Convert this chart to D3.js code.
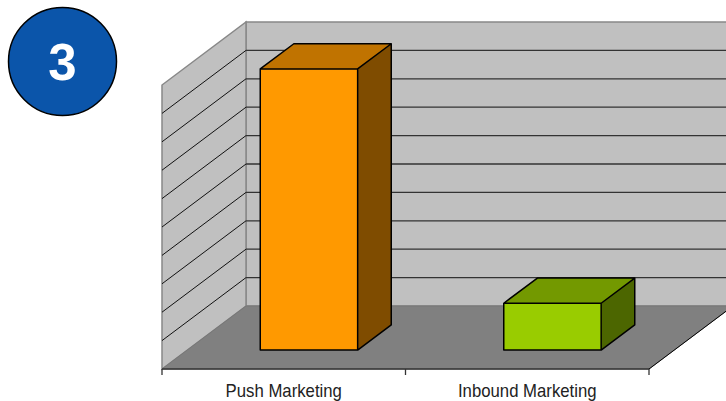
<!DOCTYPE html>
<html>
<head>
<meta charset="utf-8">
<script src="https://cdn.jsdelivr.net/npm/d3@7"></script>
<style>
	body { margin: 0; background: #fff; }
	svg { display: block; }
</style>
</head>
<body>
<svg></svg>
<script>
var categories = ['Push Marketing', 'Inbound Marketing'];
var values = [99, 16.5];
var gridTicks = [0, 10, 20, 30, 40, 50, 60, 70, 80, 90, 100];
var frontColors = ['#ff9900', '#99cc00'];
var topColors = ['#c07300', '#739900'];
var sideColors = ['#7f4c00', '#4c6600'];

var width = 726;
var height = 401;

// depth offset of the 3D box
var depth = { dx: 84, dy: -63 };

var svg = d3.select('svg')
	.attr('width', width)
	.attr('height', height);

var x = d3.scaleBand()
	.domain(categories)
	.range([162, 649])
	.padding(0);

var y = d3.scaleLinear()
	.domain([0, 100])
	.range([369, 85]);

// project a point: category position, value, depth 0..1
function pt(px, v, d) {
	return [px + d * depth.dx, y(v) + d * depth.dy];
}

function poly(points) {
	return points.map(function(p) { return p.join(','); }).join(' ');
}

var x0 = x.range()[0];
var x1 = x.range()[1];
var vMax = y.domain()[1];

// back wall
svg.append('polygon')
	.attr('points', poly([pt(x0, 0, 1), pt(x0, vMax, 1), pt(x1, vMax, 1), pt(x1, 0, 1)]))
	.attr('fill', '#c0c0c0')
	.attr('stroke', '#888')
	.attr('stroke-width', 1.5);

// side wall
svg.append('polygon')
	.attr('points', poly([pt(x0, 0, 0), pt(x0, vMax, 0), pt(x0, vMax, 1), pt(x0, 0, 1)]))
	.attr('fill', '#c0c0c0')
	.attr('stroke', '#888')
	.attr('stroke-width', 1.5);

// grid lines
var inner = gridTicks.slice(1, -1);
svg.append('g').selectAll('line.back')
	.data(inner)
	.join('line')
	.attr('x1', function(d) { return pt(x0, d, 1)[0]; })
	.attr('y1', function(d) { return pt(x0, d, 1)[1]; })
	.attr('x2', function(d) { return pt(x1, d, 1)[0]; })
	.attr('y2', function(d) { return pt(x1, d, 1)[1]; })
	.attr('stroke', '#333')
	.attr('stroke-width', 1.3);

svg.append('g').selectAll('line.side')
	.data(inner)
	.join('line')
	.attr('x1', function(d) { return pt(x0, d, 0)[0]; })
	.attr('y1', function(d) { return pt(x0, d, 0)[1]; })
	.attr('x2', function(d) { return pt(x0, d, 1)[0]; })
	.attr('y2', function(d) { return pt(x0, d, 1)[1]; })
	.attr('stroke', '#111')
	.attr('stroke-width', 1);

// floor
svg.append('polygon')
	.attr('points', poly([pt(x0, 0, 0), pt(x1, 0, 0), pt(x1, 0, 1), pt(x0, 0, 1)]))
	.attr('fill', '#808080')
	.attr('stroke', '#777')
	.attr('stroke-width', 1);

svg.append('line')
	.attr('x1', pt(x1, 0, 0)[0])
	.attr('y1', pt(x1, 0, 0)[1])
	.attr('x2', pt(x1, 0, 1)[0])
	.attr('y2', pt(x1, 0, 1)[1])
	.attr('stroke', '#000')
	.attr('stroke-width', 1);

// bars
var d0 = 0.3, d1 = 0.7;
var barW = x.bandwidth() * 0.4;

var bars = svg.append('g').selectAll('g')
	.data(categories)
	.join('g');

bars.each(function(c, i) {
	var g = d3.select(this);
	var left = x(c) + (x.bandwidth() - barW) / 2;
	var right = left + barW;
	var v = values[i];

	g.append('polygon')
		.attr('points', poly([pt(left, v, d0), pt(left, v, d1), pt(right, v, d1), pt(right, v, d0)]))
		.attr('fill', topColors[i]);
	g.append('polygon')
		.attr('points', poly([pt(right, 0, d0), pt(right, v, d0), pt(right, v, d1), pt(right, 0, d1)]))
		.attr('fill', sideColors[i]);
	g.append('polygon')
		.attr('points', poly([pt(left, 0, d0), pt(left, v, d0), pt(right, v, d0), pt(right, 0, d0)]))
		.attr('fill', frontColors[i]);

	// outline
	g.append('path')
		.attr('d', 'M' + pt(left, 0, d0) + 'L' + pt(left, v, d0) + 'L' + pt(left, v, d1) +
			'L' + pt(right, v, d1) + 'L' + pt(right, 0, d1) + 'L' + pt(right, 0, d0) + 'Z' +
			'M' + pt(left, v, d0) + 'L' + pt(right, v, d0) + 'L' + pt(right, v, d1) +
			'M' + pt(right, v, d0) + 'L' + pt(right, 0, d0))
		.attr('fill', 'none')
		.attr('stroke', '#000')
		.attr('stroke-width', 1.5)
		.attr('stroke-linejoin', 'round');
});

// category axis
var axisY = y(0);
svg.append('line')
	.attr('x1', x0)
	.attr('x2', x1)
	.attr('y1', axisY)
	.attr('y2', axisY)
	.attr('stroke', '#333')
	.attr('stroke-width', 1.3);

var tickPos = categories.map(function(c) { return x(c); }).concat([x1]);
svg.append('g').selectAll('line')
	.data(tickPos)
	.join('line')
	.attr('x1', function(d) { return d; })
	.attr('x2', function(d) { return d; })
	.attr('y1', axisY)
	.attr('y2', axisY + 6)
	.attr('stroke', '#333')
	.attr('stroke-width', 1.3);

// labels are a little narrow in the original, so squeeze them a bit
svg.append('g').selectAll('text')
	.data(categories)
	.join('text')
	.attr('transform', function(d) { return 'translate(' + (x(d) + x.bandwidth() / 2) + ',396.5) scale(0.93,1)'; })
	.attr('text-anchor', 'middle')
	.attr('font-family', 'Liberation Sans, Arial, sans-serif')
	.attr('font-size', 18)
	.attr('fill', '#222')
	.text(function(d) { return d; });

// badge
svg.append('circle')
	.attr('cx', 62.5)
	.attr('cy', 61.5)
	.attr('r', 54)
	.attr('fill', '#0b55aa')
	.attr('stroke', '#000')
	.attr('stroke-width', 1.5);

svg.append('text')
	.attr('x', 62.5)
	.attr('y', 80)
	.attr('text-anchor', 'middle')
	.attr('font-family', 'Liberation Sans, Arial, sans-serif')
	.attr('font-weight', 'bold')
	.attr('font-size', 51)
	.attr('fill', '#fff')
	.text('3');
</script>
</body>
</html>
